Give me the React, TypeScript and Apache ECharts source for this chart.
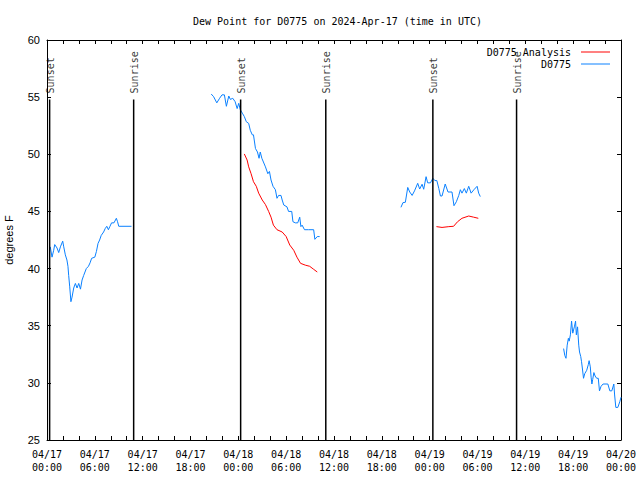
import React, { useEffect, useRef } from 'react';
import * as echarts from 'echarts';

// hours since 2024-04-17 00:00 UTC, dew point (deg F)
const obsSeg1: [number, number][] = [
  [0.41, 41.9], [0.63, 41.0], [0.84, 41.6], [0.97, 42.1], [1.26, 41.8], [1.47, 41.4], [1.68, 41.9],
  [1.97, 42.4], [2.1, 41.9], [2.3, 41.2], [2.5, 40.75], [2.63, 40.2], [2.72, 39.4], [2.85, 38.4],
  [3.0, 37.1], [3.14, 37.5], [3.35, 38.3], [3.56, 38.7], [3.77, 38.3], [3.98, 38.7], [4.2, 38.2],
  [4.4, 39.0], [4.6, 39.4], [4.93, 40.0], [5.2, 40.2], [5.4, 40.5], [5.6, 40.9], [6.0, 41.0],
  [6.2, 41.5], [6.4, 42.2], [6.6, 42.5], [6.8, 42.9], [7.1, 43.2], [7.3, 43.5], [7.5, 43.7],
  [7.7, 43.4], [7.9, 43.7], [8.1, 44.0], [8.4, 44.0], [8.7, 44.4], [8.85, 44.1], [9.0, 43.7],
  [10.6, 43.7],
];
const obsSeg2: [number, number][] = [
  [20.6, 55.27], [20.9, 55.04], [21.3, 54.5], [21.65, 54.9], [21.95, 55.2], [22.25, 55.2], [22.5, 54.2],
  [22.8, 55.1], [23.0, 54.8], [23.3, 54.9], [23.6, 54.6], [23.85, 54.0], [24.05, 54.46], [24.25, 53.9],
  [24.5, 53.6], [24.75, 53.3], [25.0, 52.85], [25.3, 52.7], [25.5, 52.1], [25.75, 51.7], [25.9, 51.7],
  [26.15, 50.5], [26.4, 50.2], [26.6, 49.65], [26.75, 50.2], [26.95, 49.65], [27.4, 48.9], [27.7, 48.3],
  [27.9, 48.5], [28.1, 47.75], [28.35, 47.2], [28.65, 46.9], [28.85, 46.15], [29.05, 46.4], [29.35, 46.4],
  [29.5, 46.0], [29.7, 45.56], [30.1, 45.4], [30.3, 45.0], [30.7, 45.0], [30.85, 44.1], [31.15, 44.0],
  [31.45, 44.0], [31.7, 44.5], [31.85, 43.67], [32.0, 43.8], [32.3, 43.4], [32.8, 43.4], [33.45, 43.4],
  [33.6, 42.56], [33.9, 42.8], [34.2, 42.8],
];
const obsSeg3: [number, number][] = [
  [44.4, 45.36], [44.65, 45.77], [44.95, 45.8], [45.25, 47.1], [45.5, 46.7], [45.8, 46.4], [46.1, 46.8],
  [46.5, 47.46], [46.75, 46.96], [47.05, 47.38], [47.25, 46.94], [47.55, 48.04], [47.75, 47.5], [48.1, 47.5],
  [48.4, 47.9], [48.65, 47.7], [48.9, 47.7], [49.15, 47.0], [49.35, 46.35], [49.55, 46.35], [49.95, 47.4],
  [50.3, 46.7], [50.8, 46.7], [51.05, 45.5], [51.35, 45.85], [51.65, 46.4], [51.85, 46.9], [52.05, 46.6],
  [52.35, 47.0], [52.6, 46.6], [52.9, 47.2], [53.2, 46.6], [53.55, 46.9], [53.95, 47.2], [54.15, 46.6],
  [54.35, 46.3],
];
const obsSeg4: [number, number][] = [
  [64.8, 33.0], [64.95, 32.4], [65.1, 32.15], [65.25, 33.3], [65.4, 33.9], [65.5, 33.65], [65.65, 34.2],
  [65.8, 35.4], [65.95, 34.35], [66.15, 34.9], [66.3, 35.4], [66.4, 34.2], [66.55, 34.9], [66.7, 33.3],
  [66.8, 32.7], [66.95, 32.3], [67.05, 31.85], [67.15, 31.3], [67.3, 30.4], [67.45, 30.8], [67.7, 31.1],
  [67.9, 31.6], [68.0, 31.94], [68.15, 31.4], [68.25, 30.5], [68.35, 29.9], [68.45, 30.3], [68.6, 30.9],
  [68.75, 30.6], [68.95, 30.4], [69.15, 30.4], [69.3, 29.3], [69.5, 29.7], [69.75, 29.9], [70.35, 29.9],
  [70.6, 29.3], [70.85, 29.3], [71.1, 29.9], [71.2, 28.94], [71.35, 27.85], [71.6, 27.85], [71.85, 28.35],
  [72.0, 28.74],
];
const anaSeg1: [number, number][] = [
  [24.75, 50.03], [25.1, 49.5], [25.3, 48.9], [25.6, 48.3], [25.9, 47.6], [26.25, 47.2], [26.55, 46.6],
  [27.0, 46.0], [27.4, 45.6], [27.8, 45.0], [28.1, 44.5], [28.4, 43.8], [28.85, 43.4], [29.5, 43.2],
  [30.0, 42.8], [30.45, 42.06], [30.95, 41.6], [31.35, 41.0], [31.8, 40.46], [32.4, 40.3], [32.95, 40.2],
  [33.4, 39.96], [33.9, 39.7],
];
const anaSeg2: [number, number][] = [
  [48.85, 43.67], [49.55, 43.6], [50.4, 43.67], [51.0, 43.7], [51.5, 44.1], [52.05, 44.4], [52.9, 44.6],
  [53.5, 44.5], [54.1, 44.4],
];

const eventNames = ['Sunset', 'Sunrise', 'Sunset', 'Sunrise', 'Sunset', 'Sunrise'];
const eventHours = [0.33, 10.87, 24.29, 34.97, 48.4, 58.9];
const eventTop = 54.8;

const xTickHours = [0, 6, 12, 18, 24, 30, 36, 42, 48, 54, 60, 66, 72];
const xTickLabels = [
  '04/17\n00:00', '04/17\n06:00', '04/17\n12:00', '04/17\n18:00',
  '04/18\n00:00', '04/18\n06:00', '04/18\n12:00', '04/18\n18:00',
  '04/19\n00:00', '04/19\n06:00', '04/19\n12:00', '04/19\n18:00',
  '04/20\n00:00',
];

const joinSegs = (segs: [number, number][][]) => {
  const out: (number | null)[][] = [];
  segs.forEach((s, i) => {
    if (i > 0) out.push([s[0][0] - 0.01, null]);
    s.forEach((p) => out.push(p));
  });
  return out;
};

const MONO = 'DejaVu Sans Mono';
const SANS = 'Liberation Sans';

export default function App() {
  const ref = useRef<HTMLDivElement>(null);
  useEffect(() => {
    const chart = echarts.init(ref.current!, null, { renderer: 'svg' });
    const eventLineData: (number | null)[][] = [];
    eventHours.forEach((h) => {
      eventLineData.push([h, 25], [h, eventTop], [h, null]);
    });
    const axisCommon = {
      axisLine: { show: true, onZero: false, lineStyle: { color: '#000', width: 1 } },
      axisTick: { show: true, inside: true, length: 4, lineStyle: { color: '#000', width: 1 } },
      splitLine: { show: false },
    };
    const legendCommon = {
      right: 30,
      padding: 0,
      align: 'right',
      icon: 'rect',
      itemWidth: 29,
      itemHeight: 1,
      textStyle: { fontFamily: MONO, fontSize: 10, color: '#000', padding: [0, 5, 0, 0] },
    };
    chart.setOption({
      animation: false,
      backgroundColor: '#fff',
      title: {
        text: 'Dew Point for D0775 on 2024-Apr-17 (time in UTC)',
        left: 188,
        top: 11,
        textStyle: { fontFamily: MONO, fontSize: 10, fontWeight: 'normal', color: '#000' },
      },
      legend: [
        { ...legendCommon, data: ['D0775 Analysis'], top: 47 },
        { ...legendCommon, data: ['D0775'], top: 59 },
      ],
      grid: { left: 47, right: 19, top: 40, bottom: 40, containLabel: false, outerBoundsMode: 'none' },
      xAxis: [
        {
          type: 'value',
          min: 0,
          max: 72,
          interval: 2,
          ...axisCommon,
          axisLabel: {
            fontFamily: MONO,
            fontSize: 10,
            color: '#000',
            lineHeight: 13,
            margin: 8,
            showMinLabel: true,
            showMaxLabel: true,
            formatter: (v: number) => {
              const i = xTickHours.indexOf(v);
              return i >= 0 ? xTickLabels[i] : '';
            },
          },
        },
        {
          type: 'value',
          position: 'top',
          min: 0,
          max: 72,
          interval: 2,
          ...axisCommon,
          axisLabel: { show: false },
        },
      ],
      yAxis: [
        {
          type: 'value',
          min: 25,
          max: 60,
          interval: 5,
          ...axisCommon,
          name: 'degrees F',
          nameLocation: 'middle',
          nameGap: 33,
          nameRotate: 90,
          nameTextStyle: { fontFamily: SANS, fontSize: 11, color: '#000' },
          axisLabel: { fontFamily: SANS, fontSize: 11, color: '#000', margin: 7 },
        },
        {
          type: 'value',
          position: 'right',
          min: 25,
          max: 60,
          interval: 5,
          ...axisCommon,
          axisLabel: { show: false },
        },
      ],
      series: [
        {
          name: 'D0775 Analysis',
          type: 'line',
          data: joinSegs([anaSeg1, anaSeg2]),
          symbol: 'none',
          connectNulls: false,
          lineStyle: { color: '#ff0000', width: 1 },
          itemStyle: { color: '#ff0000' },
        },
        {
          name: 'D0775',
          type: 'line',
          data: joinSegs([obsSeg1, obsSeg2, obsSeg3, obsSeg4]),
          symbol: 'none',
          connectNulls: false,
          lineStyle: { color: '#0a80ff', width: 1 },
          itemStyle: { color: '#0a80ff' },
        },
        {
          name: 'events',
          type: 'line',
          data: eventLineData,
          symbol: 'none',
          connectNulls: false,
          lineStyle: { color: '#000', width: 1.5 },
          silent: true,
        },
        {
          name: 'eventLabels',
          type: 'scatter',
          data: eventHours.map((h, i) => ({ value: [h, eventTop], name: eventNames[i] })),
          symbolSize: 0,
          silent: true,
          label: {
            show: true,
            formatter: (p: any) => p.name,
            rotate: 90,
            position: [1, -6],
            align: 'left',
            verticalAlign: 'middle',
            fontFamily: MONO,
            fontSize: 10,
            color: '#000',
          },
        },
      ],
    });
    return () => chart.dispose();
  }, []);
  return (
    <div
      ref={ref}
      style={{ position: 'fixed', left: 0, top: 0, width: 640, height: 480, background: '#fff' }}
    />
  );
}
